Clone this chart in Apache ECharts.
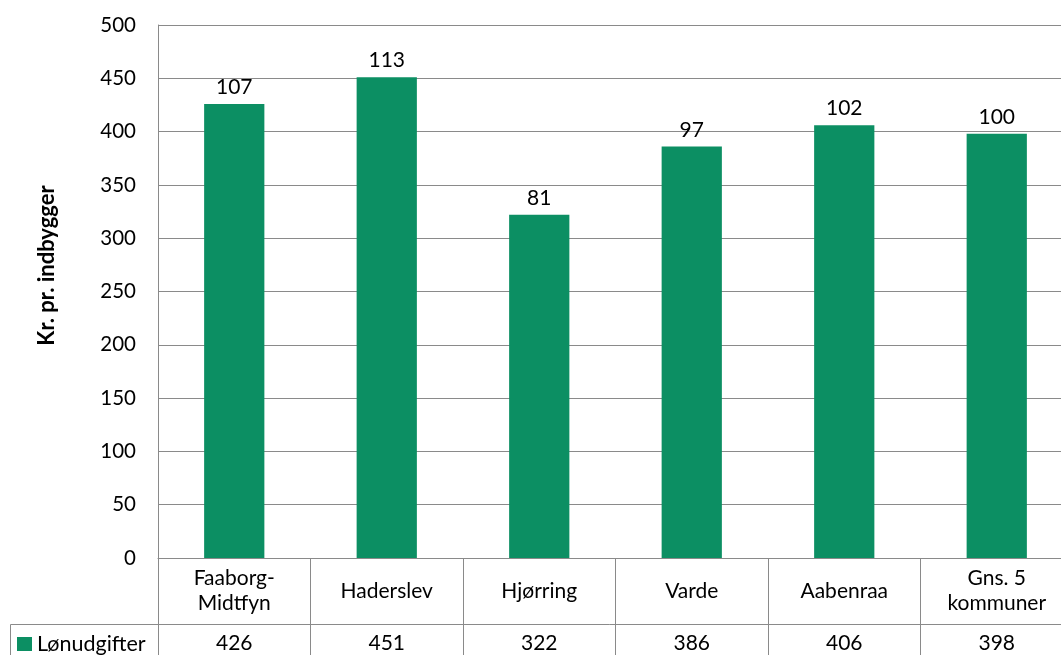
<!DOCTYPE html>
<html>
<head>
<meta charset="utf-8">
<script src="https://cdn.jsdelivr.net/npm/echarts@6/dist/echarts.min.js"></script>
<style>
  html, body { margin: 0; padding: 0; background: #fff; }
  #chart { width: 1061px; height: 655px; }
</style>
</head>
<body>
<div id="chart"></div>
<script>
// data
const categories = ['Faaborg-\nMidtfyn', 'Haderslev', 'Hjørring', 'Varde', 'Aabenraa', 'Gns. 5\nkommuner'];
const lonudgifter = [426, 451, 322, 386, 406, 398];
const indeks = [107, 113, 81, 97, 102, 100];
const seriesName = 'Lønudgifter';
const yTitle = 'Kr. pr. indbygger';

const font = 'Lato, "Open Sans", sans-serif';
const gray = '#8a8a8a';

const myChart = echarts.init(document.getElementById('chart'));

const option = {
  animation: false,
  textStyle: { fontFamily: font },
  grid: {
    left: 158,
    top: 25,
    right: -12,
    bottom: 97,
    outerBoundsMode: 'none'
  },
  legend: {
    data: [seriesName],
    left: 17,
    top: 633,
    icon: 'rect',
    itemWidth: 15,
    itemHeight: 14,
    itemGap: 4,
    padding: 0,
    selectedMode: false,
    textStyle: { fontSize: 21.5, color: '#000', fontFamily: font, padding: [0, 0, 0, 0] }
  },
  xAxis: [
    {
      type: 'category',
      data: categories,
      position: 'bottom',
      axisLine: { show: true, lineStyle: { color: gray, width: 1 } },
      axisTick: { show: true, interval: 0, length: 98, lineStyle: { color: gray, width: 1 } },
      axisLabel: {
        interval: 0,
        margin: 33,
        verticalAlign: 'middle',
        fontSize: 21,
        lineHeight: 25,
        color: '#000',
        fontFamily: font
      },
      splitLine: { show: false }
    },
    {
      type: 'category',
      data: categories,
      position: 'bottom',
      offset: 66,
      axisLine: { show: true, lineStyle: { color: gray, width: 1 } },
      axisTick: { show: false },
      axisLabel: {
        interval: 0,
        margin: 19,
        verticalAlign: 'middle',
        fontSize: 21,
        color: '#000',
        fontFamily: font,
        formatter: (v, i) => String(lonudgifter[i])
      },
      splitLine: { show: false }
    }
  ],
  yAxis: {
    type: 'value',
    min: 0,
    max: 500,
    interval: 50,
    name: yTitle,
    nameLocation: 'middle',
    nameGap: 100,
    nameRotate: 90,
    nameTextStyle: {
      fontSize: 22,
      fontWeight: 'bold',
      color: '#000',
      fontFamily: font,
      padding: [0, 0, 0, 52]
    },
    axisLine: { show: true, lineStyle: { color: gray, width: 1 } },
    axisTick: { show: false },
    axisLabel: { fontSize: 20.5, color: '#000', margin: 22, fontFamily: font },
    splitLine: { show: true, lineStyle: { color: gray, width: 1 } }
  },
  graphic: [
    {
      type: 'polyline',
      silent: true,
      shape: { points: [[10.5, 655], [10.5, 624.5], [158, 624.5]] },
      style: { stroke: gray, lineWidth: 1, fill: null }
    }
  ],
  series: [
    {
      name: seriesName,
      type: 'bar',
      data: lonudgifter,
      xAxisIndex: 0,
      barWidth: '39.5%',
      itemStyle: { color: '#0c8f63' },
      label: {
        show: true,
        position: 'top',
        distance: 6,
        fontSize: 21,
        color: '#000',
        fontFamily: font,
        formatter: p => String(indeks[p.dataIndex])
      }
    }
  ]
};

myChart.setOption(option);

window.addEventListener('resize', () => {
  myChart.resize();
});
</script>
</body>
</html>
